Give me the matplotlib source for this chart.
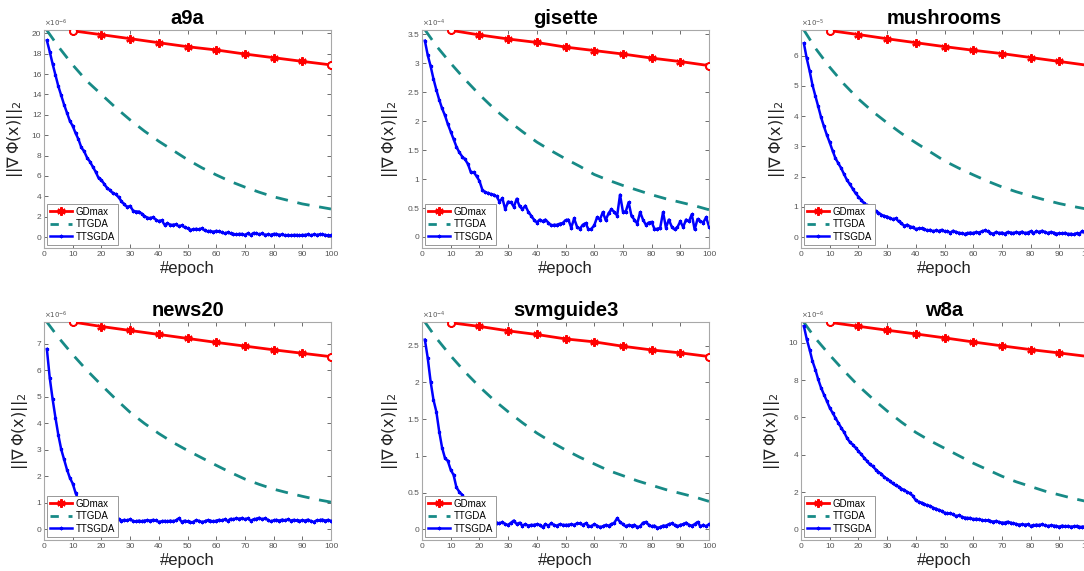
import matplotlib.pyplot as plt
from matplotlib.ticker import FormatStrFormatter
from matplotlib.lines import Line2D

plt.rcParams['font.family'] = ['Liberation Sans', 'DejaVu Sans']

# epochs
gd_ep = [10, 20, 30, 40, 50, 60, 70, 80, 90, 100]
tt_ep = [1, 5, 10, 15, 20, 25, 30, 35, 40, 45, 50, 55, 60, 65, 70, 75, 80, 85, 90, 95, 100]
sg_ep = list(range(1, 101))

names = ["a9a", "gisette", "mushrooms", "news20", "svmguide3", "w8a"]
expo = [-6, -4, -5, -6, -4, -6]

# a9a (x1e-6)
a9a_gd = [20.25, 19.87, 19.48, 19.08, 18.69, 18.37, 17.97, 17.61, 17.25, 16.9]
a9a_tt = [20.3, 18.7, 16.9, 15.3, 14.0, 12.7, 11.5, 10.4, 9.4, 8.5, 7.6, 6.8, 6.1, 5.45, 4.9, 4.4, 3.95, 3.6, 3.25, 3.0, 2.75]
a9a_sg = [19.3, 18.2, 17.0, 15.9, 14.8, 13.9, 13.0, 12.2, 11.4, 10.9,
          10.2, 9.6, 8.8, 8.4, 7.8, 7.4, 6.9, 6.4, 5.8, 5.6,
          5.2, 4.8, 4.6, 4.3, 4.2, 3.9, 3.5, 3.2, 2.95, 3.05,
          2.6, 2.5, 2.5, 2.3, 2.05, 1.9, 1.85, 1.95, 1.7, 1.55,
          1.65, 1.2, 1.35, 1.2, 1.2, 1.25, 1.05, 1.15, 0.95, 0.85,
          0.7, 0.75, 0.8, 0.75, 0.85, 0.65, 0.55, 0.6, 0.5, 0.6,
          0.55, 0.45, 0.35, 0.45, 0.35, 0.3, 0.25, 0.3, 0.3, 0.2,
          0.35, 0.2, 0.4, 0.35, 0.25, 0.35, 0.2, 0.25, 0.2, 0.3,
          0.3, 0.2, 0.25, 0.15, 0.2, 0.15, 0.2, 0.2, 0.15, 0.2,
          0.2, 0.25, 0.15, 0.25, 0.2, 0.25, 0.25, 0.2, 0.15, 0.15]

# gisette (x1e-4)
gis_gd = [3.57, 3.49, 3.42, 3.36, 3.28, 3.22, 3.16, 3.09, 3.03, 2.96]
gis_tt = [3.58, 3.30, 3.00, 2.72, 2.46, 2.22, 2.01, 1.82, 1.64, 1.49, 1.35, 1.22, 1.08, 0.98, 0.89, 0.81, 0.73, 0.66, 0.60, 0.54, 0.47]
gis_sg = [3.39, 3.14, 2.95, 2.73, 2.54, 2.37, 2.22, 2.10, 1.95, 1.82,
          1.69, 1.56, 1.46, 1.39, 1.34, 1.26, 1.12, 1.12, 1.05, 0.97,
          0.82, 0.77, 0.76, 0.74, 0.73, 0.70, 0.61, 0.67, 0.48, 0.61,
          0.60, 0.52, 0.66, 0.53, 0.48, 0.54, 0.44, 0.37, 0.30, 0.25,
          0.30, 0.27, 0.30, 0.25, 0.20, 0.21, 0.21, 0.23, 0.24, 0.29,
          0.30, 0.16, 0.32, 0.18, 0.14, 0.21, 0.24, 0.13, 0.14, 0.20,
          0.34, 0.30, 0.43, 0.29, 0.41, 0.48, 0.43, 0.37, 0.73, 0.44,
          0.44, 0.60, 0.36, 0.30, 0.23, 0.43, 0.30, 0.21, 0.25, 0.26,
          0.14, 0.14, 0.16, 0.43, 0.16, 0.30, 0.18, 0.13, 0.17, 0.27,
          0.17, 0.30, 0.27, 0.39, 0.13, 0.31, 0.27, 0.25, 0.34, 0.18]

# mushrooms (x1e-5)
mus_gd = [6.83, 6.70, 6.56, 6.43, 6.30, 6.18, 6.07, 5.94, 5.81, 5.68]
mus_tt = [6.85, 6.25, 5.62, 5.06, 4.57, 4.15, 3.78, 3.43, 3.12, 2.82, 2.52, 2.28, 2.06, 1.85, 1.66, 1.50, 1.36, 1.23, 1.11, 1.01, 0.92]
mus_sg = [6.41, 5.91, 5.50, 5.03, 4.67, 4.32, 3.96, 3.66, 3.38, 3.13,
          2.86, 2.61, 2.44, 2.28, 2.08, 1.89, 1.75, 1.60, 1.45, 1.34,
          1.23, 1.12, 1.05, 0.96, 0.90, 0.85, 0.81, 0.74, 0.70, 0.68,
          0.63, 0.59, 0.62, 0.52, 0.46, 0.37, 0.41, 0.35, 0.33, 0.26,
          0.29, 0.29, 0.26, 0.22, 0.24, 0.19, 0.22, 0.20, 0.24, 0.19,
          0.19, 0.15, 0.21, 0.17, 0.14, 0.13, 0.10, 0.13, 0.15, 0.13,
          0.17, 0.15, 0.19, 0.22, 0.19, 0.14, 0.11, 0.17, 0.13, 0.15,
          0.11, 0.17, 0.15, 0.13, 0.17, 0.14, 0.18, 0.13, 0.15, 0.19,
          0.13, 0.19, 0.17, 0.21, 0.17, 0.13, 0.17, 0.15, 0.11, 0.13,
          0.12, 0.14, 0.10, 0.11, 0.09, 0.13, 0.11, 0.20, 0.13, 0.10]

# news20 (x1e-6)
n20_gd = [7.83, 7.66, 7.51, 7.36, 7.21, 7.06, 6.92, 6.78, 6.65, 6.52]
n20_tt = [7.83, 7.25, 6.60, 6.00, 5.45, 4.92, 4.42, 4.00, 3.62, 3.28, 2.98, 2.70, 2.42, 2.15, 1.90, 1.70, 1.52, 1.38, 1.25, 1.13, 1.03]
n20_sg = [6.81, 5.72, 4.92, 4.21, 3.56, 3.02, 2.64, 2.26, 1.95, 1.73,
          1.38, 1.10, 0.85, 0.68, 0.55, 0.47, 0.42, 0.38, 0.36, 0.35,
          0.34, 0.36, 0.33, 0.35, 0.35, 0.38, 0.33, 0.36, 0.34, 0.38,
          0.32, 0.30, 0.33, 0.31, 0.33, 0.35, 0.33, 0.36, 0.34, 0.28,
          0.31, 0.32, 0.30, 0.33, 0.31, 0.34, 0.42, 0.28, 0.33, 0.30,
          0.27, 0.28, 0.35, 0.32, 0.28, 0.30, 0.35, 0.33, 0.30, 0.33,
          0.36, 0.34, 0.38, 0.32, 0.40, 0.38, 0.42, 0.40, 0.43, 0.38,
          0.42, 0.33, 0.38, 0.40, 0.44, 0.38, 0.42, 0.36, 0.30, 0.34,
          0.36, 0.33, 0.37, 0.34, 0.38, 0.33, 0.36, 0.34, 0.32, 0.35,
          0.33, 0.37, 0.31, 0.28, 0.34, 0.35, 0.37, 0.33, 0.36, 0.32]

# svmguide3 (x1e-4)
svm_gd = [2.81, 2.76, 2.70, 2.65, 2.59, 2.55, 2.49, 2.44, 2.40, 2.35]
svm_tt = [2.82, 2.60, 2.36, 2.14, 1.94, 1.76, 1.60, 1.45, 1.31, 1.19, 1.08, 0.98, 0.89, 0.80, 0.73, 0.66, 0.60, 0.54, 0.49, 0.44, 0.38]
svm_sg = [2.58, 2.33, 2.01, 1.76, 1.60, 1.33, 1.11, 0.97, 0.93, 0.81,
          0.74, 0.57, 0.51, 0.47, 0.40, 0.32, 0.25, 0.20, 0.16, 0.14,
          0.12, 0.11, 0.10, 0.11, 0.10, 0.09, 0.08, 0.10, 0.07, 0.06,
          0.09, 0.12, 0.07, 0.09, 0.05, 0.07, 0.05, 0.06, 0.06, 0.07,
          0.06, 0.03, 0.07, 0.05, 0.08, 0.06, 0.05, 0.07, 0.06, 0.06,
          0.06, 0.07, 0.06, 0.08, 0.08, 0.06, 0.08, 0.05, 0.04, 0.07,
          0.05, 0.03, 0.04, 0.06, 0.05, 0.07, 0.09, 0.15, 0.10, 0.07,
          0.04, 0.06, 0.05, 0.06, 0.03, 0.04, 0.09, 0.10, 0.06, 0.04,
          0.05, 0.02, 0.03, 0.05, 0.05, 0.07, 0.08, 0.06, 0.04, 0.06,
          0.07, 0.09, 0.06, 0.05, 0.07, 0.10, 0.04, 0.06, 0.04, 0.07]

# w8a (x1e-6)
w8a_gd = [11.1, 10.89, 10.68, 10.48, 10.27, 10.05, 9.84, 9.64, 9.46, 9.27]
w8a_tt = [11.1, 10.25, 9.35, 8.5, 7.7, 7.0, 6.35, 5.75, 5.2, 4.75, 4.35, 3.95, 3.55, 3.2, 2.85, 2.55, 2.3, 2.05, 1.85, 1.65, 1.48]
w8a_sg = [10.9, 10.2, 9.64, 9.02, 8.57, 8.04, 7.59, 7.23, 6.88, 6.52,
          6.25, 5.98, 5.71, 5.45, 5.21, 4.91, 4.68, 4.55, 4.38, 4.20,
          4.02, 3.84, 3.66, 3.48, 3.39, 3.21, 3.07, 2.98, 2.80, 2.71,
          2.59, 2.46, 2.36, 2.29, 2.18, 2.11, 2.00, 1.93, 1.79, 1.55,
          1.48, 1.43, 1.34, 1.29, 1.25, 1.16, 1.11, 1.04, 0.98, 0.89,
          0.86, 0.86, 0.80, 0.71, 0.75, 0.68, 0.63, 0.61, 0.61, 0.54,
          0.57, 0.54, 0.50, 0.48, 0.48, 0.45, 0.41, 0.45, 0.39, 0.36,
          0.36, 0.41, 0.36, 0.32, 0.29, 0.25, 0.27, 0.25, 0.27, 0.18,
          0.21, 0.25, 0.23, 0.27, 0.21, 0.18, 0.21, 0.20, 0.18, 0.14,
          0.20, 0.16, 0.18, 0.14, 0.16, 0.18, 0.13, 0.14, 0.16, 0.14]

gd_all = [a9a_gd, gis_gd, mus_gd, n20_gd, svm_gd, w8a_gd]
tt_all = [a9a_tt, gis_tt, mus_tt, n20_tt, svm_tt, w8a_tt]
sg_all = [a9a_sg, gis_sg, mus_sg, n20_sg, svm_sg, w8a_sg]

ylims = [(-1.08, 20.33), (-0.19, 3.575), (-0.36, 6.85),
         (-0.40, 7.83), (-0.145, 2.82), (-0.57, 11.12)]
ysteps = [2, 0.5, 1, 1, 0.5, 2]

W, H = 1084, 571
lefts = [44, 422, 801]
tops = [30, 322]
aw, ah = 287, 218

teal = '#178a86'
asterisk = (6, 2, 0)

fig = plt.figure(figsize=(W / 100, H / 100), dpi=100)

for i in range(6):
    r, c = divmod(i, 3)
    ax = fig.add_axes([lefts[c] / W, 1 - (tops[r] + ah) / H, aw / W, ah / H])

    ax.plot(gd_ep, gd_all[i], color='red', lw=2, marker=asterisk, ms=6, mew=1.6, zorder=3)
    ax.plot([gd_ep[0], gd_ep[-1]], [gd_all[i][0], gd_all[i][-1]], ls='none', marker='o',
            ms=5, mfc='white', mec='red', mew=1.4, zorder=4)
    ax.plot(tt_ep, tt_all[i], color=teal, lw=2, ls=(0, (4.5, 3.5)), zorder=2)
    ax.plot(sg_ep, sg_all[i], color='blue', lw=1.8, marker=asterisk, ms=2.5, mew=0.8, zorder=3)

    ax.set_xlim(0, 100)
    ax.set_ylim(*ylims[i])
    ax.set_xticks(range(0, 101, 10))
    lo, hi = ylims[i]
    st = ysteps[i]
    yt = [k * st for k in range(int(hi / st) + 1)]
    ax.set_yticks(yt)
    ax.yaxis.set_major_formatter(FormatStrFormatter('%g'))
    ax.tick_params(direction='in', length=3, width=0.6, labelsize=6, colors='#555555',
                   top=True, right=True, pad=2)
    for s in ax.spines.values():
        s.set_color('#a8a8a8')
        s.set_linewidth(0.8)

    ax.set_title(names[i], fontsize=14.5, fontweight='bold', pad=4)
    ax.set_xlabel('#epoch', fontsize=12, labelpad=2, color='#222222')
    ax.set_ylabel(r'$||\nabla\,\Phi(\mathrm{x})||_2$', fontsize=11.5, labelpad=5, color='#222222')
    ax.text(0.0, 1.005, r'$\times10^{%d}$' % expo[i], transform=ax.transAxes,
            fontsize=5, va='bottom', ha='left', color='#555555')

    handles = [
        Line2D([], [], color='red', lw=2, marker=asterisk, ms=6, mew=1.6),
        Line2D([], [], color=teal, lw=2, ls=(0, (3, 3.5))),
        Line2D([], [], color='blue', lw=1.8, marker=asterisk, ms=2.5, mew=0.8),
    ]
    leg = ax.legend(handles, ['GDmax', 'TTGDA', 'TTSGDA'], loc='lower left', fontsize=7,
                    frameon=True, fancybox=False, borderaxespad=0.35, handlelength=2.2,
                    handletextpad=0.4, borderpad=0.3, labelspacing=0.25)
    leg.get_frame().set_edgecolor('#888888')
    leg.get_frame().set_linewidth(0.6)
    leg.get_frame().set_alpha(1)

fig.savefig('out.png', dpi=100)
